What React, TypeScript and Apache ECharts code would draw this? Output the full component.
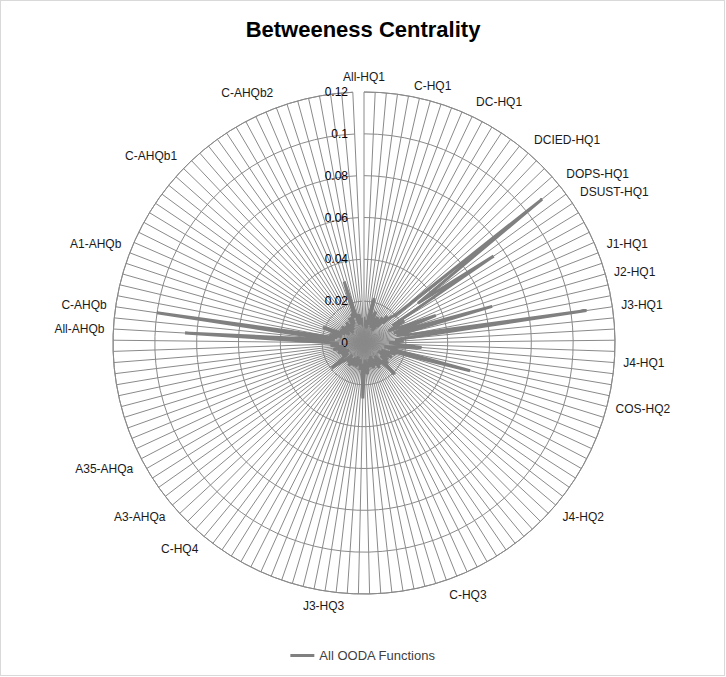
import React, { useEffect, useRef } from 'react';
import * as echarts from 'echarts';

const chartTitle = 'Betweeness Centrality';
const seriesName = 'All OODA Functions';

// 141 categories clockwise from the top; only the labelled ones are named in the picture
const categories = [
  'All-HQ1', '', '', '', '', '', 'C-HQ1', '', '', '',
  'DC-HQ1', '', '', '', '', '', 'DCIED-HQ1', '', '', '',
  'DOPS-HQ1', '', 'DSUST-HQ1', '', '', '', '', 'J1-HQ1', '', 'J2-HQ1',
  '', '', 'J3-HQ1', '', '', '', '', 'J4-HQ1', '', '',
  '', 'COS-HQ2', '', '', '', '', '', '', '', '',
  '', 'J4-HQ2', '', '', '', '', '', '', '', '',
  '', '', '', 'C-HQ3', '', '', '', '', '', '',
  '', '', '', '', 'J3-HQ3', '', '', '', '', '',
  '', '', '', '', '', '', 'C-HQ4', '', '', '',
  'A3-AHQa', '', '', '', '', 'A35-AHQa', '', '', '', '',
  '', '', '', '', '', '', '', 'All-AHQb', '', 'C-AHQb',
  '', '', '', '', 'A1-AHQb', '', '', '', '', '',
  '', '', '', 'C-AHQb1', '', '', '', '', '', '',
  '', '', '', 'C-AHQb2', '', '', '', '', '', '',
  '',
];

const betweenness = [
  0.0125, 0.008, 0.011, 0.007, 0.013, 0.022, 0.009, 0.012, 0.016, 0.008,
  0.011, 0.014, 0.012, 0.007, 0.015, 0.010, 0.017, 0.013, 0.018, 0.020,
  0.1095, 0.032, 0.0746, 0.016, 0.022, 0.013, 0.018, 0.0368, 0.015, 0.0637,
  0.016, 0.020, 0.1075, 0.015, 0.019, 0.012, 0.016, 0.0276, 0.017, 0.010,
  0.014, 0.0524, 0.013, 0.016, 0.009, 0.012, 0.015, 0.008, 0.011, 0.014,
  0.010, 0.015, 0.012, 0.021, 0.011, 0.008, 0.013, 0.010, 0.014, 0.009,
  0.012, 0.007, 0.013, 0.010, 0.008, 0.012, 0.009, 0.011, 0.015, 0.008,
  0.012, 0.0265, 0.013, 0.010, 0.013, 0.008, 0.011, 0.009, 0.012, 0.007,
  0.010, 0.012, 0.008, 0.011, 0.013, 0.009, 0.012, 0.010, 0.008, 0.012,
  0.014, 0.0195, 0.011, 0.009, 0.012, 0.010, 0.008, 0.012, 0.013, 0.009,
  0.011, 0.015, 0.010, 0.013, 0.016, 0.012, 0.018, 0.0857, 0.014, 0.1001,
  0.013, 0.017, 0.011, 0.015, 0.021, 0.012, 0.010, 0.013, 0.008, 0.011,
  0.013, 0.009, 0.012, 0.007, 0.010, 0.013, 0.008, 0.011, 0.009, 0.014,
  0.010, 0.012, 0.015, 0.013, 0.0309, 0.011, 0.009, 0.014, 0.010, 0.012,
  0.008,
];

const radiusMin = 0;
const radiusMax = 0.12;
const radiusStep = 0.02;

const FONT = 'Liberation Sans, Arial, sans-serif';
const GRID = '#8a8a8a';

export default function App() {
  const ref = useRef<HTMLDivElement>(null);

  useEffect(() => {
    if (!ref.current) return;
    const chart = echarts.init(ref.current, null, { renderer: 'svg' });
    const points: number[][] = betweenness.map((v, i) => [v, i]);
    points.push([betweenness[0], 0]);

    chart.setOption({
      animation: false,
      backgroundColor: 'transparent',
      title: {
        text: chartTitle,
        left: 'center',
        top: 13,
        textStyle: { fontFamily: FONT, fontSize: 22, fontWeight: 'bold', color: '#000' },
      },
      legend: {
        data: [seriesName],
        bottom: 10,
        left: 'center',
        icon: 'rect',
        itemWidth: 24,
        itemHeight: 3,
        itemGap: 6,
        textStyle: { fontFamily: FONT, fontSize: 13, color: '#404040' },
      },
      polar: { center: [364, 343], radius: 251 },
      angleAxis: {
        type: 'category',
        data: categories,
        boundaryGap: false,
        startAngle: 90,
        clockwise: true,
        axisLine: { show: true, lineStyle: { color: GRID, width: 1 } },
        axisTick: { show: false },
        axisLabel: {
          interval: 0,
          margin: 9,
          fontFamily: FONT,
          fontSize: 12,
          color: '#1a1a1a',
        },
        splitLine: { show: true, interval: 0, lineStyle: { color: GRID, width: 1 } },
      },
      radiusAxis: {
        type: 'value',
        min: radiusMin,
        max: radiusMax,
        interval: radiusStep,
        axisLine: { show: false },
        axisTick: { show: false },
        axisLabel: {
          fontFamily: FONT,
          fontSize: 12,
          color: '#000000',
          margin: 16,
        },
        splitLine: { show: true, lineStyle: { color: GRID, width: 1 } },
      },
      series: [
        {
          name: seriesName,
          type: 'line',
          coordinateSystem: 'polar',
          data: points,
          symbol: 'none',
          lineStyle: { color: '#808080', width: 3 },
          itemStyle: { color: '#808080' },
        },
      ],
    });
    return () => chart.dispose();
  }, []);

  return (
    <div style={{ position: 'absolute', left: 0, top: 0, width: 726, height: 677 }}>
      <div
        style={{
          position: 'absolute',
          left: 0,
          top: 0,
          width: 725,
          height: 676,
          boxSizing: 'border-box',
          border: '1px solid #d9d9d9',
        }}
      />
      <div ref={ref} style={{ position: 'absolute', left: 0, top: 0, width: 726, height: 677 }} />
    </div>
  );
}
